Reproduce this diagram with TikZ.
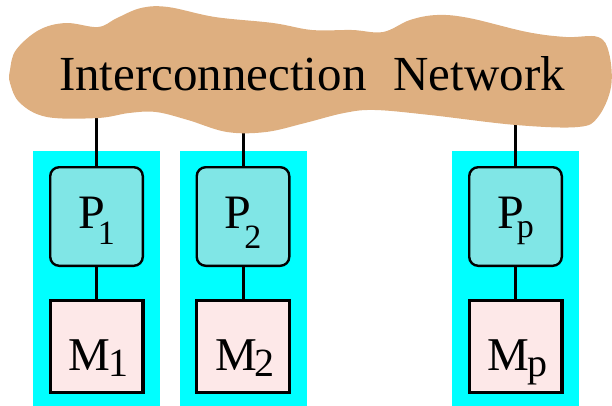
\documentclass[tikz,border=0pt]{standalone}
\usepackage{fontspec}
\setmainfont{Liberation Serif}
\newfontfamily\labelfont{Liberation Serif}
\usetikzlibrary{positioning, fit, backgrounds}

\definecolor{netbrown}{RGB}{222,175,128}
\definecolor{boardcyan}{RGB}{0,255,255}
\definecolor{procfill}{RGB}{128,230,230}
\definecolor{memfill}{RGB}{253,232,232}

\newcommand{\psub}[2][-16pt]{\kern-7pt\raisebox{#1}{\fontsize{34}{34}\selectfont #2}}
\newcommand{\msub}[1]{\kern-2pt\raisebox{-6pt}{\fontsize{40}{40}\selectfont #1}}

\begin{document}
\begin{tikzpicture}
        [x=1pt, y=-1pt,
        node distance=32pt,
        proc/.style ={rectangle, draw, line width=2.4pt, fill=procfill,
        rounded corners=9pt,
        minimum width=92.6pt, minimum height=98.6pt,
        text height=23pt, text depth=0pt,
        font=\labelfont\fontsize{48}{48}\selectfont},
        mem/.style ={rectangle, draw, line width=3.4pt, fill=memfill,
        minimum width=92.6pt, minimum height=91.6pt,
        text height=47pt, text depth=0pt,
        font=\labelfont\fontsize{47}{47}\selectfont},
        board/.style ={rectangle, fill=boardcyan, inner sep=15.5pt},
        link/.style ={draw, line width=3pt}]
        \useasboundingbox (0,0) rectangle (612,405);
        % processors
        \node [proc] (p1) at (96.5,216.5) {P\psub{1}};
        \node [proc] (p2) at (243,216.5) {P\psub[-20pt]{2}};
        \node [proc] (pp) at (515.5,216.5) {P\psub[-9pt]{p}};
        % memories
        \node [mem, below=of p1] (m1) {\hspace{4pt}M\msub{1}};
        \node [mem, below=of p2] (m2) {\hspace{4pt}M\msub{2}};
        \node [mem, below=of pp] (mp) {\hspace{4pt}M\msub{p}};
        % network label
        \node [anchor=base, font=\labelfont\fontsize{49}{49}\selectfont] (net) at (312,90)
            {Interconnection\hspace{0.3em} Network};
        \coordinate (n1) at (96.5,110);
        \coordinate (n2) at (243,125);
        \coordinate (np) at (515.5,118);
        \begin{scope}[on background layer]
            \node [board, fit=(p1)(m1)] (b1) {};
            \node [board, fit=(p2)(m2)] (b2) {};
            \node [board, fit=(pp)(mp)] (bp) {};
            \begin{scope}[every path/.style=link]
                \path (n1) -- (p1);
                \path (n2) -- (p2);
                \path (np) -- (pp);
                \path (p1) -- (m1);
                \path (p2) -- (m2);
                \path (pp) -- (mp);
            \end{scope}
            % the cloud
            \fill [netbrown] plot [smooth cycle, tension=0.6] coordinates {
                (10,70) (16,50) (39,30) (66,23) (98,27) (117,18) (141,8)
                (168,7) (215,17) (273,23) (312,30) (352,30) (383,32)
                (410,20) (437,15) (469,18) (527,32) (566,37) (598,37)
                (609,53) (611,87) (598,117) (578,127) (516,125) (430,115)
                (375,110) (344,113) (305,123) (266,132) (227,132) (188,120)
                (156,112) (129,113) (98,118) (47,117) (20,103) (10,83)};
        \end{scope}
\end{tikzpicture}
\end{document}
